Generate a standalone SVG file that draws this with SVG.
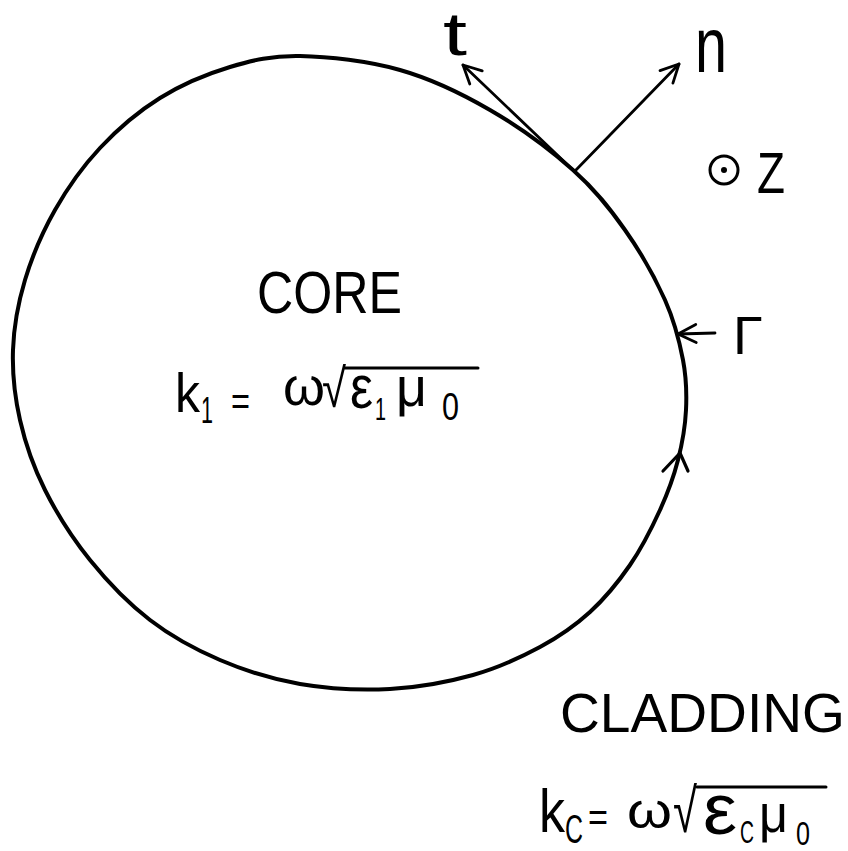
<svg xmlns="http://www.w3.org/2000/svg" width="848" height="851" viewBox="0 0 848 851">
<style>
.ln{fill:none;stroke:#000;stroke-linecap:round;stroke-linejoin:round}
.t{font-family:"Liberation Sans","DejaVu Sans",sans-serif;fill:#000}
</style>
<defs>
<marker id="ah" viewBox="-22 -12 24 24" refX="0" refY="0" markerWidth="24" markerHeight="24" markerUnits="userSpaceOnUse" orient="auto">
<path d="M-18,-9 L0,0 L-18,9" fill="none" stroke="#000" stroke-width="2.8" stroke-linecap="round" stroke-linejoin="round"/>
</marker>
</defs>
<rect width="848" height="851" fill="#fff"/>
<g id="boundary">
<path class="ln" stroke-width="4" d="M300,56 C328.3,56.5 368.3,61 400,70 C431.7,79 461.2,93.3 490,110 C518.8,126.7 550.5,150 573,170 C595.5,190 609.7,208.3 625,230 C640.3,251.7 655.3,278.3 665,300 C674.7,321.7 679.5,341.7 683,360 C686.5,378.3 686.8,393.3 686,410 C685.2,426.7 682.3,443.3 678,460 C673.7,476.7 668,492.5 660,510 C652,527.5 641.7,548 630,565 C618.3,582 605,598.3 590,612 C575,625.7 559.5,636.5 540,647 C520.5,657.5 498,668 473,675 C448,682 418.8,687.5 390,689 C361.2,690.5 328.3,688.8 300,684 C271.7,679.2 245,670.7 220,660 C195,649.3 171.7,636.7 150,620 C128.3,603.3 107.5,581.7 90,560 C72.5,538.3 56.7,513.3 45,490 C33.3,466.7 25.3,443.3 20,420 C14.7,396.7 12.2,373.3 13,350 C13.8,326.7 18,303.3 25,280 C32,256.7 42.5,232 55,210 C67.5,188 82.5,166.7 100,148 C117.5,129.3 138.3,111.5 160,98 C181.7,84.5 206.7,74 230,67 C253.3,60 271.7,55.5 300,56 Z"/>
<path class="ln" stroke-width="3.2" d="M663,471 L680,453 L688,471"/>
</g>
<g id="connectors">
<line class="ln" stroke-width="2.8" x1="573" y1="170" x2="463" y2="65" marker-end="url(#ah)"/>
<line class="ln" stroke-width="2.8" x1="575" y1="171" x2="679" y2="64" marker-end="url(#ah)"/>
<line class="ln" stroke-width="2.8" x1="715" y1="333" x2="678" y2="334" marker-end="url(#ah)"/>
</g>
<g id="label-t"><text class="t" x="443" y="55" font-size="62" textLength="24" lengthAdjust="spacingAndGlyphs">t</text></g>
<g id="label-n"><text class="t" x="695" y="72" font-size="78" textLength="32" lengthAdjust="spacingAndGlyphs">n</text></g>
<g id="label-z">
<circle cx="724" cy="170" r="14" fill="none" stroke="#000" stroke-width="3"/>
<circle cx="724" cy="170" r="3" fill="#000"/>
<text class="t" x="757" y="193" font-size="57" textLength="28" lengthAdjust="spacingAndGlyphs">Z</text>
</g>
<g id="label-gamma"><text class="t" x="733" y="354" font-size="54">Γ</text></g>
<g id="core">
<text class="t" x="257" y="313" font-size="59" textLength="145" lengthAdjust="spacingAndGlyphs">CORE</text>
<text class="t" font-size="56"><tspan x="175" y="412" textLength="25" lengthAdjust="spacingAndGlyphs">k</tspan><tspan x="201" y="423" font-size="36" textLength="12" lengthAdjust="spacingAndGlyphs">1</tspan><tspan x="231" y="415" font-size="40" textLength="19" lengthAdjust="spacingAndGlyphs">=</tspan><tspan x="283" y="405" font-size="54" textLength="42" lengthAdjust="spacingAndGlyphs">ω</tspan><tspan x="322" y="407" font-size="54" textLength="24" lengthAdjust="spacingAndGlyphs">√</tspan><tspan x="350" y="408" font-size="62" textLength="23" lengthAdjust="spacingAndGlyphs">ε</tspan><tspan x="375" y="420" font-size="32" textLength="11" lengthAdjust="spacingAndGlyphs">1</tspan><tspan x="396" y="406" font-size="55" textLength="31" lengthAdjust="spacingAndGlyphs">μ</tspan><tspan x="442" y="420" font-size="38" textLength="17" lengthAdjust="spacingAndGlyphs">0</tspan></text>
<line class="ln" stroke-width="3" x1="345" y1="368" x2="478" y2="368"/>
</g>
<g id="cladding">
<text class="t" x="560" y="732" font-size="56" textLength="285" lengthAdjust="spacingAndGlyphs">CLADDING</text>
<text class="t" font-size="62"><tspan x="539" y="832" textLength="26" lengthAdjust="spacingAndGlyphs">k</tspan><tspan x="565" y="843" font-size="40" textLength="18" lengthAdjust="spacingAndGlyphs">C</tspan><tspan x="588" y="831" font-size="40" textLength="20" lengthAdjust="spacingAndGlyphs">=</tspan><tspan x="627" y="828" font-size="50" textLength="45" lengthAdjust="spacingAndGlyphs">ω</tspan><tspan x="673" y="832" font-size="62" textLength="24" lengthAdjust="spacingAndGlyphs">√</tspan><tspan x="703" y="834" font-size="72" textLength="34" lengthAdjust="spacingAndGlyphs">ε</tspan><tspan x="740" y="843" font-size="32" textLength="14" lengthAdjust="spacingAndGlyphs">C</tspan><tspan x="759" y="832" font-size="54" textLength="29" lengthAdjust="spacingAndGlyphs">μ</tspan><tspan x="796" y="845" font-size="34" textLength="14" lengthAdjust="spacingAndGlyphs">0</tspan></text>
<line class="ln" stroke-width="3" x1="697" y1="787" x2="826" y2="787"/>
</g>
</svg>
